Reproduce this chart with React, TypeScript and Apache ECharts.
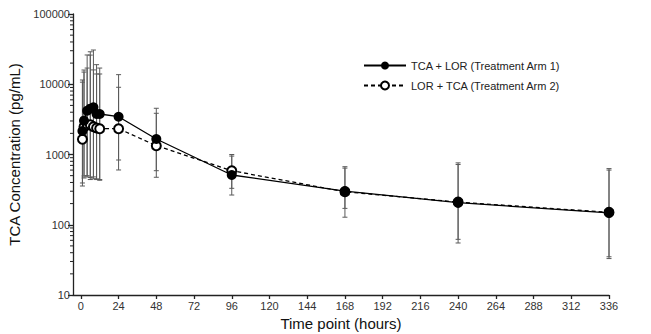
import React, { useEffect, useRef } from "react";
import * as echarts from "echarts";

const times = [1, 2, 4, 6, 8, 10, 12, 24, 48, 96, 168, 240, 336];
const arm1Mean = [2160, 3030, 4200, 4490, 4700, 3770, 3770, 3450, 1660, 511, 302, 206, 148];
const arm1Upper = [11500, 15950, 26100, 29000, 30700, 19000, 17000, 13700, 4550, 950, 670, 760, 630];
const arm1Lower = [356, 463, 480, 440, 450, 440, 430, 835, 588, 265, 128, 55, 33];
const arm2Mean = [1650, 2490, 2630, 2650, 2490, 2380, 2330, 2330, 1335, 588, 295, 210, 150];
const arm2Upper = [10700, 14900, 17000, 26000, 16000, 14000, 14000, 9050, 3860, 1000, 640, 720, 600];
const arm2Lower = [393, 495, 500, 470, 480, 450, 440, 602, 474, 330, 171, 62, 35];
const xTicks = [0, 24, 48, 72, 96, 120, 144, 168, 192, 216, 240, 264, 288, 312, 336];
const seriesNames = ["TCA + LOR (Treatment Arm 1)", "LOR + TCA (Treatment Arm 2)"];
const X_MIN = -5;

const FONT = "Liberation Sans, Arial, sans-serif";

function errorBarSeries(lower: number[], upper: number[], z: number) {
  const data = times.map((t, i) => [t, lower[i], upper[i]]);
  return {
    type: "custom",
    z,
    silent: true,
    data,
    encode: { x: 0, y: [1, 2] },
    renderItem: (params: any, api: any) => {
      const t = api.value(0);
      const lo = api.coord([t, api.value(1)]);
      const hi = api.coord([t, api.value(2)]);
      const cap = 2.5;
      const style = { stroke: "#5a5a5a", lineWidth: 1 };
      return {
        type: "group",
        children: [
          { type: "line", shape: { x1: lo[0], y1: lo[1], x2: hi[0], y2: hi[1] }, style },
          { type: "line", shape: { x1: hi[0] - cap, y1: hi[1], x2: hi[0] + cap, y2: hi[1] }, style },
          { type: "line", shape: { x1: lo[0] - cap, y1: lo[1], x2: lo[0] + cap, y2: lo[1] }, style },
        ],
      };
    },
  };
}

export default function App() {
  const ref = useRef<HTMLDivElement>(null);
  useEffect(() => {
    if (!ref.current) return;
    const chart = echarts.init(ref.current, null, { renderer: "svg" });
    const minorVals: number[] = [];
    for (let d = 10; d < 100000; d *= 10) {
      for (let k = 2; k <= 9; k++) minorVals.push(k * d);
    }
    chart.setOption({
      animation: false,
      backgroundColor: "#fff",
      textStyle: { fontFamily: FONT },
      grid: { left: 73, right: 42, top: 14, bottom: 39, outerBoundsMode: "none", containLabel: false },
      legend: {
        orient: "vertical",
        left: 358,
        top: 55,
        itemWidth: 42,
        itemHeight: 10,
        itemGap: 9,
        textStyle: { fontFamily: FONT, fontSize: 11, color: "#222" },
        data: seriesNames,
      },
      xAxis: {
        type: "value",
        min: X_MIN,
        max: 336,
        name: "Time point (hours)",
        nameLocation: "middle",
        nameGap: 20,
        nameTextStyle: { fontFamily: FONT, fontSize: 15, color: "#111" },
        axisLine: { show: true, onZero: false, lineStyle: { color: "#222", width: 1.3 } },
        axisTick: { show: true, customValues: xTicks, length: 4, lineStyle: { color: "#222", width: 1.3 } },
        axisLabel: { customValues: xTicks, fontFamily: FONT, fontSize: 11, color: "#333", margin: 5 },
        splitLine: { show: false },
      },
      yAxis: {
        type: "log",
        logBase: 10,
        min: 10,
        max: 100000,
        name: "TCA Concentration (pg/mL)",
        nameLocation: "middle",
        nameGap: 50,
        nameTextStyle: { fontFamily: FONT, fontSize: 15, color: "#111" },
        axisLine: { show: true, onZero: false, lineStyle: { color: "#222", width: 1.3 } },
        axisTick: { show: true, length: 5, lineStyle: { color: "#222", width: 1.3 } },
        axisLabel: {
          fontFamily: FONT,
          fontSize: 11,
          color: "#333",
          margin: 3,
          formatter: (v: number) => String(Math.round(v)),
        },
        splitLine: { show: false },
      },
      series: [
        {
          type: "custom",
          silent: true,
          clip: false,
          z: 1,
          data: minorVals.map((v) => [X_MIN, v]),
          encode: { x: 0, y: 1 },
          renderItem: (params: any, api: any) => {
            const p = api.coord([api.value(0), api.value(1)]);
            return {
              type: "line",
              shape: { x1: p[0] - 3, y1: p[1], x2: p[0], y2: p[1] },
              style: { stroke: "#222", lineWidth: 1 },
            };
          },
        },
        errorBarSeries(arm2Lower, arm2Upper, 1),
        errorBarSeries(arm1Lower, arm1Upper, 1),
        {
          name: seriesNames[1],
          type: "line",
          z: 3,
          data: times.map((t, i) => [t, arm2Mean[i]]),
          symbol: "emptyCircle",
          symbolSize: 9,
          lineStyle: { color: "#000", width: 1.3, type: [4, 3] },
          itemStyle: { color: "#000", borderColor: "#000", borderWidth: 1.3 },
        },
        {
          name: seriesNames[0],
          type: "line",
          z: 4,
          data: times.map((t, i) => [t, arm1Mean[i]]),
          symbol: "circle",
          symbolSize: 10,
          lineStyle: { color: "#000", width: 1.3 },
          itemStyle: { color: "#000" },
        },
      ],
    });
    return () => chart.dispose();
  }, []);
  return <div ref={ref} style={{ width: 651, height: 334, marginLeft: -8, marginTop: -8 }} />;
}
